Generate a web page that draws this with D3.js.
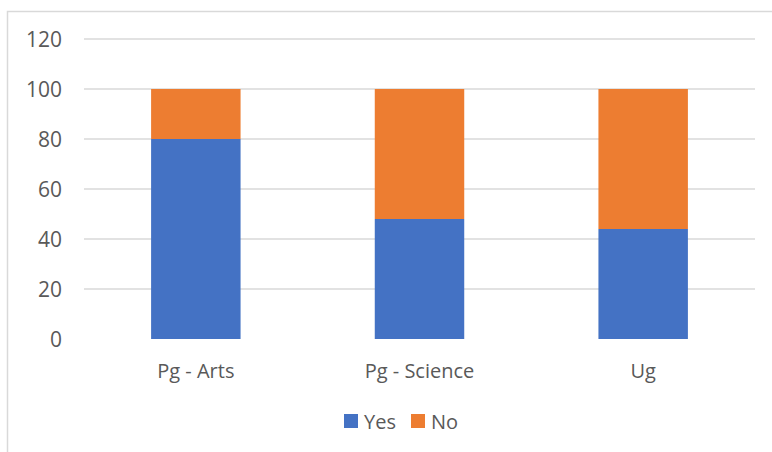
<!DOCTYPE html>
<html><head><meta charset="utf-8">
<script src="https://cdn.jsdelivr.net/npm/d3@7"></script>
<style>body{margin:0;background:#fff}svg{display:block}</style>
</head><body>
<svg id="c" width="772" height="452"></svg>
<script>
const categories = ["Pg - Arts", "Pg - Science", "Ug"];
const yesValues = [80, 48, 44];
const noValues = [20, 52, 56];
const seriesNames = ["Yes", "No"];
const seriesColors = ["#4472C4", "#ED7D31"];
const yTicks = [0, 20, 40, 60, 80, 100, 120];

const svg = d3.select("#c");
const font = "'Open Sans', sans-serif";
const textColor = "#595959";

// chart frame
svg.append("rect").attr("x", 7.5).attr("y", 11.5).attr("width", 800).attr("height", 500)
  .attr("fill", "none").attr("stroke", "#d9d9d9").attr("stroke-width", 1.5);

const plot = {left: 84, right: 755, top: 39, bottom: 339};
const x = d3.scaleBand().domain(categories).range([plot.left, plot.right]).paddingInner(0).paddingOuter(0);
const y = d3.scaleLinear().domain([0, 120]).range([plot.bottom, plot.top]);

// gridlines
svg.append("g").selectAll("line").data(yTicks.filter(d => d > 0)).join("line")
  .attr("x1", plot.left).attr("x2", plot.right)
  .attr("y1", d => y(d)).attr("y2", d => y(d))
  .attr("stroke", "#d9d9d9").attr("stroke-width", 1.5);

// y labels
svg.append("g").selectAll("text").data(yTicks).join("text")
  .attr("x", 62).attr("y", d => y(d)).attr("dy", "0.36em")
  .attr("text-anchor", "end").attr("font-family", font).attr("font-size", 21)
  .attr("fill", textColor).text(d => d);

// stacked bars
const rows = categories.map((c, i) => ({cat: c, Yes: yesValues[i], No: noValues[i]}));
const stack = d3.stack().keys(seriesNames)(rows);
const barW = x.bandwidth() * 0.4;
svg.append("g").selectAll("g").data(stack).join("g")
  .attr("fill", (d, i) => seriesColors[i])
  .selectAll("rect").data(d => d).join("rect")
  .attr("x", d => x(d.data.cat) + (x.bandwidth() - barW) / 2)
  .attr("width", barW)
  .attr("y", d => y(d[1]))
  .attr("height", d => y(d[0]) - y(d[1]));

// x labels
svg.append("g").selectAll("text").data(categories).join("text")
  .attr("x", d => x(d) + x.bandwidth() / 2).attr("y", 378)
  .attr("text-anchor", "middle").attr("font-family", font).attr("font-size", 20)
  .attr("fill", textColor).text(d => d);

// legend
const legendX = [344, 411];
const lg = svg.append("g").selectAll("g").data(seriesNames).join("g")
  .attr("transform", (d, i) => `translate(${legendX[i]},414)`);
lg.append("rect").attr("width", 14).attr("height", 14).attr("fill", (d, i) => seriesColors[i]);
lg.append("text").attr("x", 20).attr("y", 15).attr("font-family", font).attr("font-size", 20)
  .attr("fill", textColor).text(d => d);
</script>
</body></html>
